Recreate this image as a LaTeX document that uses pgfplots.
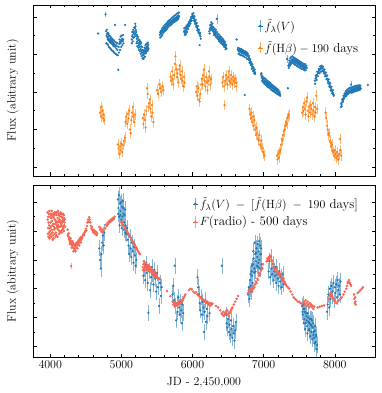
\documentclass[12pt,border=0pt]{standalone}
\usepackage{pgfplots}
\pgfplotsset{compat=1.18}
\definecolor{tabblue}{RGB}{31,119,180}
\definecolor{taborange}{RGB}{255,127,14}
\definecolor{radiored}{RGB}{247,102,82}

\pgfplotsset{
  lc/.style={
    scale only axis, width=342bp,
    xmin=3758, xmax=8565,
    xtick={4000,5000,6000,7000,8000}, minor x tick num=4,
    minor y tick num=1, yticklabels={},
    tick align=inside,
    major tick length=3.5bp, minor tick length=2bp,
    tick style={black, line width=0.5pt},
    axis line style={line width=0.7pt},
    /pgf/number format/1000 sep={},
    ylabel={Flux (abitrary unit)},
    ylabel style={at={(axis description cs:-0.03,0.5)}, anchor=south},
    legend cell align=left,
    legend style={draw=none, fill=none, font=\fontsize{13}{15}\selectfont},
  },
  dotpt/.style={only marks, mark=*, mark size=0.9pt, color=#1},
  errpt/.style={only marks, mark=*, mark size=0.9pt, color=#1,
    error bars/y dir=both, error bars/y explicit, error bars/error mark=none,
    error bars/error bar style={#1!55!white, line width=0.4pt}},
  errleg/.style={legend image code/.code={
    \path (0cm,0cm) -- (0.16cm,0cm);
    \draw[#1!65!white, line width=0.6pt] (0.08cm,-0.2cm) -- (0.08cm,0.2cm);
    \fill[#1] (0.08cm,0cm) circle (0.9pt);}},
}

\begin{document}
\begin{tikzpicture}

% top panel: V band and shifted H-beta
\begin{axis}[lc, at={(0,181bp)}, anchor=south west, height=171bp,
  ymin=-0.24, ymax=4.32, ytick={0,1,2,3,4}, xticklabels={},
  legend style={at={(axis description cs:0.648,0.94)}, anchor=north west, row sep=5bp}]

\addplot[dotpt=tabblue, errleg=tabblue] table[row sep=\\] {
x y\\
4673 3.56\\ 4785 3.62\\ 4792 3.50\\ 4798 3.55\\ 4805 3.45\\ 4810 3.40\\ 4816 3.48\\ 4822 3.38\\
4828 3.42\\ 4834 3.35\\ 4840 3.40\\ 4846 3.32\\ 4852 3.38\\ 4858 3.30\\ 4864 3.36\\ 4870 3.28\\
4876 3.33\\ 4882 3.25\\ 4888 3.30\\ 4894 3.22\\ 4900 3.27\\ 4910 3.79\\ 4915 3.20\\ 4922 3.25\\
4930 3.15\\ 4938 3.22\\ 4946 3.12\\ 4957 2.59\\ 4962 3.20\\ 4970 3.28\\ 4978 3.33\\ 4986 3.30\\
4994 3.38\\ 5002 3.35\\ 5010 3.42\\ 5018 3.36\\ 5026 3.40\\ 5052 3.79\\
4788 3.30\\ 4795 3.66\\ 4802 3.28\\ 4808 3.58\\ 4813 3.25\\ 4819 3.55\\ 4825 3.20\\ 4831 3.50\\
4837 3.18\\ 4843 3.48\\ 4849 3.15\\ 4855 3.45\\ 4861 3.12\\ 4867 3.42\\ 4873 3.10\\ 4879 3.40\\
4885 3.08\\ 4891 3.38\\ 4897 3.05\\ 4905 3.35\\ 4918 3.02\\ 4926 3.32\\ 4934 3.00\\ 4942 3.30\\
4950 2.98\\ 4966 3.05\\ 4974 3.40\\ 4982 3.12\\ 4990 3.48\\ 4998 3.20\\ 5006 3.50\\ 5014 3.25\\
5022 3.52\\ 5030 3.30\\
5145 3.40\\ 5152 3.48\\ 5158 3.52\\ 5165 3.45\\ 5172 3.58\\ 5178 3.62\\ 5185 3.55\\ 5192 3.70\\
5198 3.75\\ 5204 3.65\\ 5210 3.50\\ 5216 3.42\\ 5222 3.35\\ 5228 3.45\\ 5234 3.30\\ 5240 3.38\\
5246 3.25\\ 5252 3.32\\ 5258 3.20\\ 5264 3.28\\ 5270 3.15\\ 5276 3.22\\ 5282 3.10\\ 5288 3.05\\
5294 3.12\\ 5300 3.00\\ 5306 3.06\\ 5312 2.98\\ 5318 3.04\\ 5324 3.10\\ 5330 2.94\\ 5336 3.12\\
5342 3.08\\ 5348 3.16\\ 5354 3.20\\ 5360 3.14\\ 5366 3.22\\ 5372 3.18\\ 5378 3.26\\
5148 3.30\\ 5155 3.60\\ 5162 3.35\\ 5168 3.66\\ 5175 3.45\\ 5182 3.72\\ 5188 3.48\\ 5195 3.82\\
5201 3.55\\ 5207 3.60\\ 5213 3.30\\ 5219 3.52\\ 5225 3.22\\ 5231 3.48\\ 5237 3.18\\ 5243 3.40\\
5249 3.12\\ 5255 3.38\\ 5261 3.08\\ 5267 3.34\\ 5273 3.02\\ 5279 3.30\\ 5285 2.96\\ 5291 3.20\\
5297 2.90\\ 5303 3.12\\ 5309 2.88\\ 5315 3.10\\ 5321 2.92\\ 5327 3.18\\ 5333 3.02\\ 5339 3.25\\
5345 3.04\\ 5351 3.28\\ 5357 3.08\\ 5363 3.30\\ 5369 3.10\\ 5375 3.32\\ 5381 3.15\\
5540 3.52\\ 5548 3.58\\ 5556 3.55\\ 5564 3.62\\ 5572 3.58\\ 5580 3.65\\ 5588 3.62\\ 5596 3.70\\
5604 3.66\\ 5612 3.72\\ 5620 3.70\\ 5628 3.76\\ 5636 3.73\\ 5644 3.80\\ 5652 3.77\\ 5660 3.82\\
5668 3.79\\ 5676 3.85\\ 5684 3.82\\ 5692 3.88\\ 5700 3.85\\ 5708 3.90\\ 5716 3.87\\ 5724 3.93\\
5732 3.90\\ 5740 3.95\\ 5748 3.92\\ 5756 3.97\\ 5764 3.94\\ 5772 3.99\\ 5780 3.96\\ 5788 4.02\\
5796 3.99\\ 5804 4.04\\ 5812 4.01\\
5544 3.45\\ 5552 3.62\\ 5560 3.48\\ 5568 3.68\\ 5576 3.52\\ 5584 3.72\\ 5592 3.58\\ 5600 3.76\\
5608 3.62\\ 5616 3.80\\ 5624 3.65\\ 5632 3.83\\ 5640 3.68\\ 5648 3.86\\ 5656 3.72\\ 5664 3.90\\
5672 3.76\\ 5680 3.92\\ 5688 3.78\\ 5696 3.95\\ 5704 3.80\\ 5712 3.98\\ 5720 3.84\\ 5728 4.00\\
5736 3.86\\ 5744 4.03\\ 5752 3.88\\ 5760 4.05\\ 5768 3.90\\ 5776 4.08\\ 5784 3.92\\ 5792 4.10\\
5800 3.95\\ 5808 4.12\\
5880 3.62\\ 5888 3.58\\ 5896 3.64\\ 5904 3.60\\ 5912 3.68\\ 5920 3.66\\ 5928 3.72\\ 5936 3.75\\
5944 3.78\\ 5952 3.82\\ 5960 3.85\\ 5968 3.88\\ 5976 3.92\\ 5984 3.96\\ 5992 4.00\\ 6000 4.05\\
6008 4.02\\ 6016 3.98\\ 6024 3.95\\ 6032 3.90\\ 6040 3.86\\ 6048 3.82\\ 6056 3.78\\ 6064 3.72\\
6072 3.68\\ 6080 3.65\\ 6088 3.60\\ 6096 3.56\\ 6100 3.25\\ 6104 3.52\\ 6112 3.48\\
5884 3.70\\ 5892 3.52\\ 5900 3.72\\ 5908 3.55\\ 5916 3.76\\ 5924 3.60\\ 5932 3.80\\ 5940 3.68\\
5948 3.86\\ 5956 3.76\\ 5964 3.92\\ 5972 3.82\\ 5980 4.00\\ 5988 3.90\\ 5996 4.08\\ 6004 3.98\\
6012 4.10\\ 6020 3.90\\ 6028 4.02\\ 6036 3.82\\ 6044 3.92\\ 6052 3.74\\ 6060 3.84\\ 6068 3.64\\
6076 3.76\\ 6084 3.58\\ 6092 3.66\\ 6108 3.58\\ 6116 3.42\\
6236 3.62\\ 6244 3.68\\ 6252 3.72\\ 6260 3.80\\ 6268 3.76\\ 6276 3.70\\ 6284 3.74\\ 6292 3.65\\
6300 3.60\\ 6308 3.56\\ 6316 3.62\\ 6324 3.58\\ 6332 3.54\\ 6348 3.52\\ 6356 3.48\\ 6364 3.42\\
6372 3.46\\ 6380 3.40\\ 6388 3.44\\ 6396 3.36\\ 6404 3.40\\ 6412 3.34\\ 6420 3.38\\ 6428 3.30\\
6436 3.34\\ 6444 3.27\\ 6452 3.30\\ 6460 3.24\\ 6468 3.20\\ 6476 3.16\\
6240 3.56\\ 6248 3.78\\ 6256 3.65\\ 6264 3.86\\ 6272 3.68\\ 6280 3.82\\ 6288 3.62\\ 6296 3.72\\
6304 3.52\\ 6312 3.68\\ 6320 3.50\\ 6328 3.66\\ 6336 3.46\\ 6344 3.60\\ 6352 3.42\\ 6360 3.55\\
6368 3.36\\ 6376 3.52\\ 6384 3.34\\ 6392 3.48\\ 6400 3.30\\ 6408 3.46\\ 6416 3.28\\ 6424 3.42\\
6432 3.24\\ 6440 3.38\\ 6448 3.20\\ 6456 3.34\\ 6464 3.14\\ 6472 3.26\\
6620 3.40\\ 6636 3.14\\ 6644 3.10\\ 6652 3.12\\ 6660 3.08\\ 6668 3.12\\ 6676 3.06\\ 6684 3.10\\
6692 3.05\\ 6700 3.08\\ 6708 3.04\\ 6716 3.08\\ 6724 3.02\\ 6732 3.06\\ 6735 1.92\\ 6740 3.00\\
6748 3.04\\ 6756 2.98\\ 6764 3.02\\ 6772 2.96\\ 6780 2.98\\ 6790 2.92\\ 6798 2.88\\ 6806 2.84\\
6814 2.80\\ 6822 2.76\\ 6830 2.72\\ 6838 2.68\\ 6846 2.66\\ 6854 2.62\\ 6862 2.58\\ 6870 2.55\\
6878 2.52\\
6640 3.18\\ 6648 3.02\\ 6656 3.16\\ 6664 3.00\\ 6672 3.15\\ 6680 2.98\\ 6688 3.14\\ 6696 2.98\\
6704 3.12\\ 6712 2.96\\ 6720 3.10\\ 6728 2.94\\ 6744 3.08\\ 6752 2.92\\ 6760 3.06\\ 6768 2.88\\
6776 3.02\\ 6786 2.86\\ 6794 2.96\\ 6802 2.78\\ 6810 2.88\\ 6818 2.72\\ 6826 2.80\\ 6834 2.62\\
6842 2.74\\ 6850 2.56\\ 6858 2.66\\ 6866 2.50\\ 6874 2.60\\ 6882 2.48\\
6965 2.46\\ 6972 2.40\\ 6980 2.36\\ 6988 2.32\\ 6996 2.34\\ 7004 2.28\\ 7012 2.30\\ 7020 2.26\\
7028 2.28\\ 7036 2.24\\ 7044 2.22\\ 7052 2.25\\ 7060 2.20\\ 7068 2.22\\ 7076 2.18\\ 7084 2.20\\
7092 2.15\\ 7100 2.17\\ 7108 2.12\\ 7116 2.14\\ 7124 2.10\\ 7132 2.12\\ 7140 2.08\\ 7148 2.10\\
7156 2.06\\ 7164 2.08\\ 7172 2.04\\ 7180 2.06\\ 7188 2.02\\ 7196 2.04\\ 7204 2.00\\ 7212 1.98\\
7220 1.96\\ 7228 1.94\\
6968 2.50\\ 6976 2.30\\ 6984 2.42\\ 6992 2.26\\ 7000 2.38\\ 7008 2.22\\ 7016 2.36\\ 7024 2.20\\
7032 2.34\\ 7040 2.17\\ 7048 2.30\\ 7056 2.14\\ 7064 2.28\\ 7072 2.12\\ 7080 2.26\\ 7088 2.10\\
7096 2.24\\ 7104 2.06\\ 7112 2.20\\ 7120 2.04\\ 7128 2.18\\ 7136 2.02\\ 7144 2.15\\ 7152 2.00\\
7160 2.13\\ 7168 1.98\\ 7176 2.10\\ 7184 1.96\\ 7192 2.08\\ 7200 1.94\\ 7208 2.05\\ 7216 1.92\\
7224 2.00\\ 7232 1.90\\
7340 2.10\\ 7348 2.70\\ 7356 2.74\\ 7364 2.78\\ 7372 2.76\\ 7380 2.82\\ 7388 2.80\\ 7396 2.86\\
7404 2.84\\ 7412 2.88\\ 7420 2.82\\ 7428 2.86\\ 7436 2.80\\ 7444 2.84\\ 7452 2.78\\ 7460 2.82\\
7468 2.76\\ 7476 2.80\\ 7484 2.74\\ 7492 2.78\\ 7500 2.72\\ 7508 2.76\\ 7516 2.70\\ 7524 2.74\\
7532 2.68\\ 7540 2.72\\ 7548 2.70\\ 7556 2.66\\ 7564 2.70\\ 7572 2.64\\ 7580 2.68\\ 7588 2.62\\
7596 2.66\\ 7604 2.64\\
7352 2.64\\ 7360 2.84\\ 7368 2.70\\ 7376 2.90\\ 7384 2.74\\ 7392 2.94\\ 7400 2.78\\ 7408 2.95\\
7416 2.78\\ 7424 2.92\\ 7432 2.74\\ 7440 2.90\\ 7448 2.72\\ 7456 2.88\\ 7464 2.70\\ 7472 2.86\\
7480 2.68\\ 7488 2.84\\ 7496 2.66\\ 7504 2.82\\ 7512 2.64\\ 7520 2.80\\ 7528 2.62\\ 7536 2.78\\
7544 2.62\\ 7552 2.76\\ 7560 2.60\\ 7568 2.74\\ 7576 2.58\\ 7584 2.74\\ 7592 2.58\\ 7600 2.70\\
7720 2.30\\ 7730 2.36\\ 7740 2.40\\ 7750 2.46\\ 7760 2.50\\ 7770 2.54\\ 7780 2.58\\ 7790 2.60\\
7800 2.62\\ 7810 2.66\\ 7820 2.62\\ 7830 2.64\\ 7840 2.58\\ 7850 2.54\\ 7860 2.50\\ 7870 2.46\\
7880 2.42\\ 7890 2.36\\ 7900 2.32\\ 7910 2.28\\ 7920 2.22\\ 7930 2.18\\ 7940 2.12\\ 7950 2.08\\
7960 2.02\\ 7970 1.98\\ 7980 1.94\\
7724 2.22\\ 7734 2.44\\ 7744 2.32\\ 7754 2.54\\ 7764 2.42\\ 7774 2.62\\ 7784 2.50\\ 7794 2.68\\
7804 2.54\\ 7814 2.70\\ 7824 2.56\\ 7834 2.68\\ 7844 2.50\\ 7854 2.60\\ 7864 2.42\\ 7874 2.52\\
7884 2.34\\ 7894 2.44\\ 7904 2.24\\ 7914 2.34\\ 7924 2.14\\ 7934 2.24\\ 7944 2.04\\ 7954 2.14\\
7964 1.96\\ 7974 2.05\\ 7984 1.90\\
8086 1.60\\ 8094 1.66\\ 8102 1.72\\ 8110 1.78\\ 8118 1.82\\ 8126 1.86\\ 8134 1.90\\ 8142 1.92\\
8150 1.96\\ 8158 1.94\\ 8166 1.98\\ 8174 2.00\\ 8182 1.97\\ 8190 2.02\\ 8198 2.00\\ 8206 2.04\\
8214 2.01\\ 8222 2.05\\ 8236 2.03\\ 8244 2.07\\ 8252 2.04\\ 8260 2.08\\ 8268 2.05\\ 8276 2.09\\
8284 2.06\\ 8292 2.10\\ 8300 2.07\\ 8308 2.11\\ 8316 2.08\\ 8324 2.12\\ 8332 2.09\\ 8340 2.13\\
8348 2.10\\ 8356 2.12\\ 8364 2.09\\ 8465 2.19\\
8090 1.70\\ 8098 1.62\\ 8106 1.80\\ 8114 1.74\\ 8122 1.90\\ 8130 1.82\\ 8138 1.96\\ 8146 1.88\\
8154 2.02\\ 8162 1.90\\ 8170 2.05\\ 8178 1.94\\ 8186 2.08\\ 8194 1.96\\ 8202 2.10\\ 8210 1.98\\
8218 2.12\\ 8226 2.00\\ 8232 2.10\\ 8240 1.98\\ 8248 2.13\\ 8256 2.00\\ 8264 2.14\\ 8272 2.01\\
8280 2.15\\ 8288 2.02\\ 8296 2.16\\ 8304 2.03\\ 8312 2.17\\ 8320 2.04\\ 8328 2.17\\ 8336 2.05\\
8344 2.18\\ 8352 2.06\\ 8360 2.17\\
};
\addlegendentry{$\tilde{f}_\lambda(V)$}

\addplot[errpt=tabblue, forget plot] table[row sep=\\, y error index=2] {
x y e\\
4778 4.07 0.07\\ 6340 3.95 0.14\\ 7330 2.88 0.10\\ 8228 2.20 0.08\\
};

\addplot[errpt=taborange, errleg=taborange] table[row sep=\\, y error expr=0.14] {
x y\\
4700 1.45\\ 4710 1.60\\ 4720 1.35\\ 4730 1.50\\ 4740 1.30\\ 4750 1.40\\ 4760 1.25\\
4950 0.60\\ 4960 0.50\\ 4970 0.35\\ 4980 0.55\\ 4990 0.45\\ 5000 0.62\\ 5010 0.40\\ 5020 0.58\\
5035 0.70\\ 5050 0.78\\ 5060 1.20\\ 5070 1.35\\ 5080 1.15\\ 5090 1.42\\ 5100 1.30\\ 5110 1.50\\
5120 1.00\\ 5130 0.90\\ 5140 1.25\\ 5150 1.45\\ 5160 1.60\\ 5170 1.35\\ 5180 1.20\\ 5190 1.40\\
5300 1.30\\ 5310 1.15\\ 5320 1.40\\ 5330 1.25\\ 5340 1.05\\ 5350 1.50\\ 5360 2.10\\ 5370 1.95\\
5380 1.60\\ 5390 1.70\\ 5400 1.80\\ 5410 1.55\\ 5420 1.35\\ 5430 1.65\\ 5440 1.45\\ 5450 1.20\\
5500 2.05\\ 5515 1.95\\ 5530 2.20\\ 5545 2.10\\ 5560 2.00\\ 5575 2.15\\ 5590 2.05\\
5690 2.40\\ 5700 2.30\\ 5710 2.55\\ 5720 2.35\\ 5730 2.20\\ 5740 2.45\\ 5750 2.75\\ 5760 2.95\\
5770 2.60\\ 5780 2.40\\ 5790 2.50\\ 5800 2.25\\ 5810 2.60\\ 5820 2.70\\ 5830 2.45\\ 5840 2.35\\
5850 2.55\\ 5860 2.30\\ 5870 2.15\\ 5880 2.40\\ 5890 2.25\\
6050 2.00\\ 6060 2.15\\ 6070 1.90\\ 6080 2.10\\ 6090 1.80\\ 6100 1.75\\ 6110 1.95\\ 6120 2.20\\
6130 2.35\\ 6140 2.20\\ 6150 2.45\\ 6160 2.60\\ 6170 2.30\\ 6180 2.15\\ 6190 2.40\\ 6200 2.25\\
6210 2.05\\ 6220 2.30\\ 6230 2.55\\ 6240 2.40\\ 6250 2.20\\ 6260 2.35\\
6420 2.25\\ 6430 2.40\\ 6440 2.15\\ 6450 1.65\\ 6460 2.30\\ 6470 2.45\\ 6480 2.35\\ 6490 2.20\\
6500 2.40\\ 6510 2.55\\ 6520 2.30\\ 6530 2.25\\ 6540 2.45\\ 6550 2.35\\ 6560 2.20\\ 6570 2.40\\
6580 2.30\\ 6590 2.25\\ 6600 2.35\\ 6610 2.15\\ 6620 2.25\\
6800 1.55\\ 6810 1.40\\ 6820 1.30\\ 6830 1.45\\ 6840 1.20\\ 6850 1.35\\ 6860 1.10\\ 6870 1.25\\
6880 1.00\\ 6890 0.85\\ 6900 1.05\\ 6910 0.90\\ 6920 0.75\\ 6930 0.70\\ 6940 0.85\\ 6950 0.60\\
6960 0.55\\ 6970 0.70\\ 6980 0.50\\ 6990 0.40\\ 7000 0.35\\ 7010 0.30\\
7185 0.30\\ 7195 0.20\\ 7205 0.35\\ 7215 0.25\\ 7225 0.40\\ 7235 0.45\\ 7245 0.60\\ 7255 0.75\\
7265 0.70\\ 7275 0.85\\ 7285 0.95\\ 7295 1.00\\ 7305 1.10\\ 7315 1.20\\ 7325 1.15\\ 7335 1.30\\
7345 1.35\\ 7355 1.40\\
7540 1.45\\ 7550 1.60\\ 7560 1.50\\ 7570 1.70\\ 7580 1.55\\ 7590 1.40\\ 7600 1.75\\ 7610 1.85\\
7620 1.50\\ 7630 1.35\\ 7640 1.60\\ 7650 1.45\\ 7660 1.65\\ 7670 1.55\\ 7680 1.40\\ 7690 1.70\\
7700 1.50\\ 7710 1.35\\ 7720 1.60\\ 7730 1.45\\ 7740 1.90\\ 7750 1.55\\
7870 1.45\\ 7880 1.30\\ 7890 1.10\\ 7900 1.00\\ 7910 0.85\\ 7920 0.90\\ 7930 0.70\\ 7940 0.65\\
7950 0.55\\ 7960 0.60\\ 7970 0.45\\ 7980 0.40\\ 7990 0.30\\ 8000 0.45\\ 8010 0.35\\ 8020 0.25\\
8030 0.40\\ 8040 0.30\\ 8050 0.20\\ 8060 0.35\\ 8070 0.75\\ 8080 0.45\\ 8090 0.30\\
};
\addlegendentry{$\tilde{f}(\mathrm{H}\beta) - 190$ days}
\end{axis}

% bottom panel: difference curve and shifted radio
\begin{axis}[lc, at={(0,0)}, anchor=south west, height=172bp,
  ymin=-0.37, ymax=5.6, ytick={0,1,2,3,4,5},
  xlabel={JD - 2,450,000},
  legend style={at={(axis description cs:0.458,0.953)}, anchor=north west, row sep=2bp}]

\addplot[errpt=tabblue, errleg=tabblue] table[row sep=\\, y error expr=0.28] {
x y\\
4690 3.40\\ 4700 3.00\\ 4710 2.70\\ 4720 3.20\\ 4730 3.60\\ 4740 3.85\\ 4750 3.50\\ 4760 3.95\\
4950 5.10\\ 4960 4.80\\ 4970 4.50\\ 4980 4.95\\ 4990 4.70\\ 5000 4.40\\ 5010 4.85\\ 5020 5.05\\
5030 4.60\\ 5040 4.30\\ 5050 4.75\\ 5060 4.20\\ 5070 3.90\\ 5080 4.10\\ 5090 3.70\\
4955 4.60\\ 4965 5.25\\ 4975 4.20\\ 4985 4.55\\ 4995 5.00\\ 5005 4.10\\ 5015 4.50\\ 5025 4.80\\
5035 4.05\\ 5045 4.55\\ 5055 3.95\\
5100 3.50\\ 5110 3.20\\ 5120 3.80\\ 5130 3.40\\ 5140 3.10\\ 5150 3.60\\ 5160 3.30\\ 5170 2.90\\
5180 3.45\\ 5190 3.15\\ 5200 2.80\\ 5210 3.00\\
5310 2.45\\ 5322 2.70\\ 5334 2.30\\ 5346 2.85\\ 5358 2.55\\ 5370 2.20\\ 5380 1.16\\ 5392 2.60\\
5404 1.95\\ 5416 2.40\\ 5428 2.75\\ 5440 2.50\\ 5452 2.15\\ 5464 2.65\\ 5476 2.35\\ 5488 1.90\\
5500 2.55\\ 5512 2.05\\ 5530 1.40\\ 5542 2.20\\ 5554 1.75\\ 5566 2.05\\
5720 1.80\\ 5730 2.10\\ 5740 1.60\\ 5750 2.80\\ 5760 1.40\\ 5770 0.90\\ 5780 1.50\\ 5790 1.20\\
5800 1.70\\ 5810 1.35\\ 5820 1.10\\ 5830 1.55\\ 5840 1.25\\ 5850 0.80\\ 5860 1.45\\ 5870 1.15\\
6070 2.40\\ 6080 2.05\\ 6090 1.80\\ 6100 1.50\\ 6110 1.25\\ 6120 1.70\\ 6130 1.10\\ 6140 1.55\\
6150 1.35\\ 6160 0.50\\ 6170 1.20\\ 6180 1.60\\ 6190 0.85\\ 6200 1.30\\ 6210 1.05\\ 6240 1.15\\
6412 2.80\\
6470 1.10\\ 6480 0.80\\ 6490 0.65\\ 6500 0.95\\ 6510 0.50\\ 6520 0.75\\ 6530 0.40\\ 6540 0.90\\
6550 0.60\\ 6560 0.30\\ 6570 0.70\\ 6580 0.45\\ 6590 0.20\\ 6600 0.55\\ 6610 0.85\\
6780 1.80\\ 6790 2.05\\ 6800 1.65\\ 6810 2.30\\ 6820 2.10\\ 6830 2.60\\ 6840 2.45\\ 6850 2.85\\
6860 3.05\\ 6870 2.70\\ 6880 3.20\\ 6890 2.95\\ 6900 3.40\\ 6910 3.10\\ 6920 2.75\\ 6930 3.30\\
6940 3.00\\ 6950 3.50\\ 6960 3.20\\ 6970 2.85\\
6805 2.00\\ 6815 2.50\\ 6825 1.90\\ 6835 2.80\\ 6845 2.20\\ 6855 3.30\\ 6865 2.55\\ 6875 3.60\\
6885 2.60\\ 6895 3.25\\ 6905 2.80\\ 6915 3.55\\ 6925 2.90\\ 6935 3.65\\ 6945 2.70\\ 6955 3.20\\
6965 3.40\\
7070 2.60\\ 7080 2.95\\ 7090 2.40\\ 7100 3.10\\ 7110 2.70\\ 7120 2.50\\ 7130 2.85\\ 7140 2.30\\
7150 2.60\\ 7160 2.45\\ 7170 2.75\\ 7180 2.20\\ 7190 2.50\\ 7200 2.35\\ 7210 2.10\\ 7220 2.60\\
7230 2.25\\ 7240 2.40\\ 7250 2.05\\ 7260 2.30\\ 7270 2.50\\ 7280 2.15\\
7540 1.40\\ 7550 1.10\\ 7560 1.30\\ 7570 0.95\\ 7580 1.20\\ 7590 0.80\\ 7600 1.05\\ 7610 0.70\\
7620 1.15\\ 7630 0.85\\ 7640 0.60\\ 7650 0.95\\ 7660 0.75\\ 7670 0.50\\ 7680 0.90\\ 7690 0.65\\
7700 0.40\\ 7710 0.30\\ 7720 0.55\\ 7730 0.15\\ 7740 0.35\\ 7750 0.05\\
7545 1.20\\ 7555 1.45\\ 7565 0.80\\ 7575 1.30\\ 7585 0.60\\ 7595 1.15\\ 7605 0.90\\ 7615 0.45\\
7625 1.00\\ 7635 0.55\\ 7645 0.80\\ 7655 0.35\\ 7665 0.95\\ 7675 0.70\\ 7685 0.25\\ 7695 0.80\\
7705 0.50\\ 7715 0.10\\ 7725 0.70\\ 7735 0.40\\ 7745 -0.10\\
7890 1.20\\ 7900 1.45\\ 7910 1.80\\ 7920 1.35\\ 7930 2.00\\ 7940 1.65\\ 7950 2.10\\ 7960 1.75\\
7970 1.90\\ 7980 2.20\\ 7990 1.60\\ 8000 2.05\\ 8010 1.85\\ 8020 2.15\\ 8030 1.70\\ 8040 2.30\\
8050 1.95\\ 8060 2.10\\ 8070 1.80\\ 8080 2.25\\
};
\addlegendentry{$\tilde{f}_\lambda(V) \;-\; [\tilde{f}(\mathrm{H}\beta) \;-\; 190$ days]}

\addplot[dotpt=radiored, errleg=radiored, mark size=1.05pt] table[row sep=\\] {
x y\\
3965 4.40\\ 3970 4.10\\ 3975 3.80\\ 3980 4.60\\ 3985 4.20\\ 3990 3.75\\ 3995 4.50\\ 4000 4.00\\
4005 4.30\\ 4010 3.90\\ 4015 4.55\\ 4020 4.70\\ 4025 4.35\\ 4030 4.20\\ 4035 3.70\\ 4040 3.85\\
4045 4.25\\ 4050 4.45\\ 4055 4.05\\ 4060 4.65\\ 4065 4.40\\ 4070 4.25\\ 4075 3.80\\ 4080 3.95\\
4085 4.30\\ 4090 4.55\\ 4095 4.10\\ 4100 4.15\\ 4105 4.45\\ 4110 4.70\\ 4115 4.20\\ 4120 4.35\\
4125 3.90\\ 4130 4.00\\ 4135 4.50\\ 4140 4.60\\ 4145 4.15\\ 4150 4.25\\ 4155 4.60\\ 4160 4.50\\
4165 3.95\\ 4170 4.05\\ 4175 4.45\\ 4180 4.40\\ 4185 4.10\\ 4190 4.55\\ 4195 4.20\\ 4200 4.30\\
4210 4.15\\
3962 4.65\\ 3967 3.90\\ 3972 4.50\\ 3977 4.30\\ 3982 3.95\\ 3987 4.70\\ 3992 4.10\\ 3997 3.85\\
4002 4.60\\ 4007 4.15\\ 4012 4.45\\ 4017 3.80\\ 4022 4.05\\ 4027 4.60\\ 4032 3.95\\ 4037 4.50\\
4042 4.60\\ 4047 3.75\\ 4052 4.15\\ 4057 4.55\\ 4062 3.90\\ 4067 4.10\\ 4072 4.60\\ 4077 4.35\\
4082 4.65\\ 4087 3.85\\ 4092 4.20\\ 4097 4.65\\ 4102 3.80\\ 4107 4.30\\ 4112 4.05\\ 4117 4.60\\
4122 4.15\\ 4127 4.55\\ 4132 4.40\\ 4137 3.95\\ 4142 4.30\\ 4147 4.65\\ 4152 4.00\\ 4157 4.35\\
4162 4.20\\ 4167 4.60\\ 4172 4.30\\ 4177 4.15\\ 4182 4.60\\ 4187 4.35\\ 4192 4.00\\ 4197 4.45\\
4205 4.40\\
4245 4.05\\ 4252 3.90\\ 4258 3.80\\ 4265 3.70\\ 4272 3.75\\ 4278 3.62\\ 4285 3.68\\ 4292 3.55\\
4298 3.60\\ 4305 3.50\\ 4312 3.65\\ 4318 3.45\\ 4325 3.58\\ 4332 3.40\\ 4338 3.52\\ 4345 3.35\\
4352 3.48\\ 4358 3.55\\ 4365 3.42\\ 4372 3.60\\ 4378 3.50\\ 4385 3.62\\ 4392 3.55\\ 4398 3.68\\
4405 3.60\\ 4412 3.72\\ 4420 3.65\\ 4428 3.78\\ 4436 3.70\\
4248 3.85\\ 4262 3.92\\ 4275 3.55\\ 4288 3.75\\ 4302 3.42\\ 4315 3.55\\ 4328 3.30\\ 4342 3.50\\
4355 3.30\\ 4368 3.55\\ 4382 3.40\\ 4395 3.60\\ 4408 3.50\\ 4422 3.75\\ 4432 3.60\\
4444 3.80\\ 4452 3.76\\ 4460 3.85\\ 4468 3.90\\ 4476 3.86\\ 4484 3.95\\ 4492 4.00\\ 4500 4.08\\
4508 4.02\\ 4516 4.18\\ 4524 4.30\\ 4532 4.40\\ 4540 4.32\\ 4548 4.48\\ 4556 4.40\\ 4564 4.30\\
4572 4.18\\ 4580 4.08\\ 4588 4.14\\ 4596 4.02\\ 4604 3.96\\ 4612 4.04\\ 4620 3.94\\ 4628 4.00\\
4636 3.90\\ 4644 3.98\\ 4652 3.86\\ 4660 3.92\\
4690 4.15\\ 4700 4.05\\ 4710 4.10\\ 4720 3.98\\ 4730 4.05\\ 4740 3.95\\ 4750 4.00\\
4775 4.10\\ 4785 4.22\\ 4795 4.18\\ 4805 4.28\\ 4815 4.24\\ 4825 4.34\\ 4835 4.30\\ 4845 4.38\\
4855 4.34\\ 4865 4.42\\ 4875 4.38\\ 4885 4.46\\ 4895 4.42\\ 4905 4.50\\
5000 4.30\\ 5010 4.27\\ 5020 4.22\\ 5030 4.20\\ 5040 4.15\\ 5050 4.10\\ 5060 4.06\\ 5070 4.02\\
5080 3.98\\ 5090 3.95\\ 5100 3.90\\ 5110 3.86\\ 5120 3.82\\ 5130 3.78\\ 5140 3.72\\ 5150 3.68\\
5160 3.64\\ 5170 3.60\\ 5180 3.56\\ 5190 3.52\\ 5200 3.46\\ 5210 3.42\\ 5220 3.38\\ 5230 3.32\\
5240 3.28\\ 5250 3.24\\ 5260 3.20\\
5300 2.75\\ 5310 2.85\\ 5320 2.70\\ 5330 2.80\\ 5340 2.75\\ 5350 2.90\\ 5360 2.78\\ 5370 2.72\\
5380 2.80\\ 5390 2.68\\ 5400 2.70\\ 5410 2.65\\ 5420 2.62\\ 5430 2.60\\ 5440 2.55\\ 5450 2.58\\
5460 2.50\\ 5470 2.48\\ 5480 2.45\\ 5490 2.40\\ 5500 2.42\\ 5510 2.38\\ 5520 2.35\\ 5530 2.36\\
5540 2.33\\ 5640 1.92\\ 5690 1.74\\
5305 2.65\\ 5315 2.95\\ 5325 2.62\\ 5335 2.90\\ 5345 2.65\\ 5355 2.80\\ 5365 2.68\\ 5375 2.82\\
5385 2.62\\ 5395 2.76\\ 5405 2.60\\ 5415 2.72\\ 5425 2.55\\ 5435 2.66\\ 5445 2.48\\ 5455 2.62\\
5465 2.44\\ 5475 2.55\\ 5485 2.38\\ 5495 2.48\\
5720 1.55\\ 5730 1.45\\ 5740 1.50\\ 5750 1.40\\ 5760 1.52\\ 5770 1.48\\ 5780 1.42\\ 5790 1.50\\
5800 1.45\\ 5810 1.55\\ 5820 1.48\\ 5830 1.50\\ 5840 1.60\\ 5850 1.55\\ 5860 1.58\\ 5870 1.65\\
5880 1.70\\ 5890 1.75\\ 5900 1.80\\
5950 1.95\\ 5970 2.00\\ 5990 1.98\\ 6010 1.90\\ 6030 1.85\\ 6050 1.88\\ 6070 1.80\\ 6090 1.75\\
6110 1.70\\ 6130 1.65\\ 6150 1.62\\ 6160 1.58\\ 6170 1.55\\ 6180 1.60\\ 6190 1.52\\ 6200 1.50\\
6210 1.55\\ 6220 1.45\\ 6230 1.50\\ 6240 1.48\\ 6250 1.42\\ 6260 1.50\\ 6270 1.45\\ 6280 1.48\\
6330 1.40\\ 6360 1.35\\ 6390 1.25\\ 6410 1.15\\ 6420 1.10\\ 6430 1.20\\ 6440 1.05\\ 6450 1.12\\
6460 1.18\\ 6470 1.22\\ 6480 1.15\\ 6490 1.25\\ 6500 1.10\\ 6510 1.05\\ 6520 1.15\\ 6530 1.20\\
6540 1.25\\ 6550 1.30\\ 6560 1.35\\ 6580 1.45\\ 6600 1.55\\ 6620 1.65\\ 6640 1.75\\
6780 1.85\\ 6790 1.95\\ 6800 1.90\\ 6810 2.00\\ 6820 1.95\\ 6830 2.05\\ 6840 1.90\\ 6850 2.00\\
6860 2.10\\ 6870 2.05\\ 6880 2.15\\ 6890 2.25\\ 6900 2.20\\ 6910 2.35\\ 6920 2.30\\ 6930 2.45\\
6940 2.55\\ 6950 2.50\\ 6960 2.65\\ 6970 2.75\\ 6980 2.70\\ 6990 2.85\\
7040 2.95\\ 7050 3.05\\ 7060 3.00\\ 7070 3.10\\ 7080 3.05\\ 7090 3.15\\ 7100 3.10\\ 7110 3.00\\
7120 2.95\\ 7130 2.85\\ 7140 2.75\\ 7150 2.70\\ 7160 2.65\\ 7170 2.60\\ 7180 2.70\\ 7190 2.55\\
7200 2.60\\ 7210 2.50\\ 7220 2.55\\ 7230 2.45\\ 7240 2.50\\ 7250 2.40\\ 7260 2.35\\ 7270 2.30\\
7280 2.35\\ 7290 2.25\\ 7300 2.20\\ 7310 2.15\\ 7320 2.10\\
7340 2.05\\ 7360 2.00\\ 7380 1.90\\ 7400 1.80\\ 7420 1.70\\ 7440 1.65\\ 7460 1.60\\ 7480 1.55\\
7500 1.55\\ 7520 1.50\\ 7540 1.48\\ 7560 1.50\\ 7570 1.55\\ 7580 1.45\\ 7590 1.60\\ 7600 1.50\\
7610 1.40\\ 7620 1.55\\ 7630 1.45\\ 7640 1.35\\ 7650 1.50\\ 7660 1.40\\ 7670 1.45\\ 7680 1.35\\
7690 1.40\\ 7700 1.30\\ 7710 1.38\\ 7760 1.35\\ 7790 1.38\\ 7820 1.40\\ 7850 1.42\\
7920 1.65\\ 7930 1.75\\ 7940 1.85\\ 7950 1.80\\ 7960 1.78\\ 7970 1.70\\ 7980 1.65\\ 7990 1.60\\
8000 1.55\\ 8020 1.50\\ 8040 1.55\\ 8060 1.60\\ 8080 1.65\\ 8100 1.70\\ 8120 1.80\\ 8140 1.90\\
8160 2.00\\ 8170 2.10\\ 8180 2.20\\ 8190 2.25\\ 8200 2.30\\ 8210 2.20\\ 8220 2.15\\ 8230 2.10\\
8270 1.80\\ 8275 1.65\\ 8280 1.50\\ 8285 1.70\\ 8290 1.55\\ 8295 1.45\\
8320 1.85\\ 8340 1.90\\ 8360 1.95\\ 8380 2.00\\ 8395 2.05\\
};
\addlegendentry{$F$(radio) - 500 days}

\addplot[errpt=radiored, forget plot] table[row sep=\\, y error index=2] {
x y e\\
4294 2.79 0.10\\
};
\end{axis}

\pgfresetboundingbox
\path[use as bounding box] (-33bp,-36bp) rectangle (349bp,357bp);
\end{tikzpicture}
\end{document}
